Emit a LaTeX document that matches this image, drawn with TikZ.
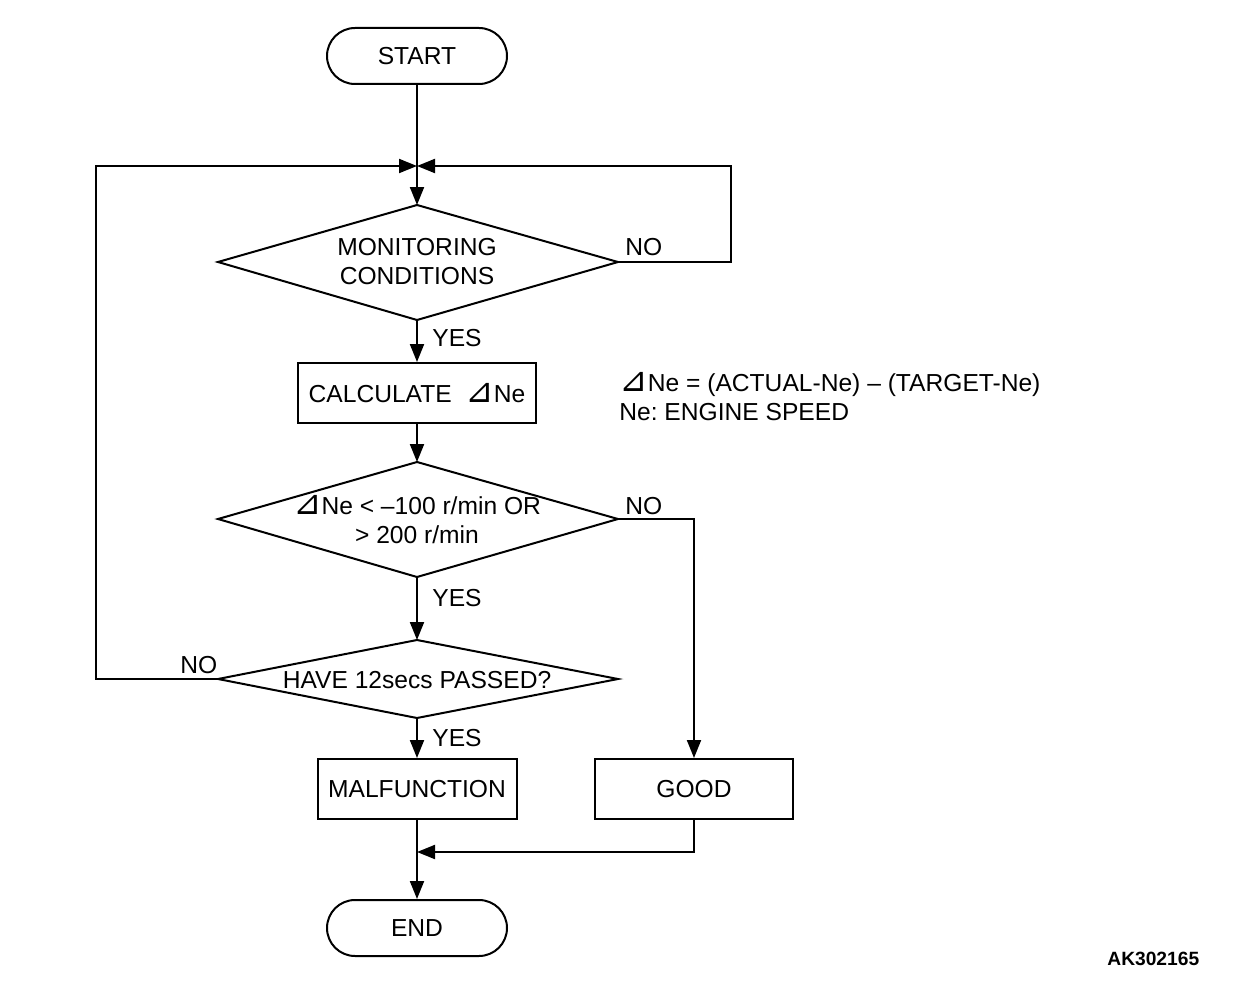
\documentclass[tikz,border=0pt]{standalone}
\usepackage{fontspec}
\setmainfont{Liberation Sans}
\newfontfamily\symfont{DejaVu Sans}
\usetikzlibrary{arrows.meta,shapes.geometric}
\newcommand{\dtri}{{\symfont\fontsize{17}{14}\selectfont ⊿}}
\frenchspacing
\begin{document}
\begin{tikzpicture}[x=0.5pt,y=-0.5pt,
  every node/.style={font=\fontsize{12.3}{14.5}\selectfont},
  line/.style={line width=1pt},
  arr/.style={line width=1pt,-{Triangle[length=9pt,width=7pt]}},
  term/.style={draw,line width=1pt,rounded corners=14pt,minimum width=90pt,minimum height=28pt,inner sep=0pt},
  proc/.style={draw,line width=1pt,minimum height=30pt,inner sep=0pt,align=center},
  dec/.style={draw,line width=1pt,align=center,inner sep=0pt},
  lbl/.style={inner sep=0pt}]
\useasboundingbox (0,0) rectangle (1248,990);
\node[term] (start) at (417,56) {START};
\node[term] (end) at (417,928) {END};
\draw[dec] (218,262) -- (417,205) -- (618,262) -- (417,320) -- cycle;
\node[lbl,align=center] (d1) at (417,262) {MONITORING\\CONDITIONS};
\coordinate (d1t) at (417,205); \coordinate (d1b) at (417,320); \coordinate (d1r) at (618,262);
\node[proc,minimum width=119pt] (calc) at (417,393) {CALCULATE \ \dtri Ne};
\draw[dec] (218,519) -- (417,462) -- (618,519) -- (417,577) -- cycle;
\node[lbl,align=center] (d2) at (417,520) {\dtri Ne < –100 r/min OR\\> 200 r/min};
\coordinate (d2t) at (417,462); \coordinate (d2b) at (417,577); \coordinate (d2r) at (618,519);
\draw[dec] (218,679) -- (417,640) -- (618,679) -- (417,718) -- cycle;
\node[lbl] (d3) at (417,680) {HAVE 12secs PASSED?};
\coordinate (d3t) at (417,640); \coordinate (d3b) at (417,718); \coordinate (d3l) at (218,679);
\node[proc,minimum width=99.5pt] (mal) at (417,789) {MALFUNCTION};
\node[proc,minimum width=99pt] (good) at (694,789) {GOOD};
\coordinate (m) at (417,166);
\coordinate (rr1) at (731,262); \coordinate (rr2) at (731,166);
\coordinate (ll1) at (96,679); \coordinate (ll2) at (96,166);
\coordinate (g1) at (694,519);
\coordinate (e1) at (694,852); \coordinate (e2) at (417,852);
% connectors
\draw[line] (start) -- (m);
\draw[arr] (m) -- (d1t);
\draw[arr] (d1r) -- (rr1) -- (rr2) -- (m);
\draw[arr] (d3l) -- (ll1) -- (ll2) -- (m);
\draw[arr] (d1b) -- (calc);
\draw[arr] (calc) -- (d2t);
\draw[arr] (d2b) -- (d3t);
\draw[arr] (d3b) -- (mal);
\draw[arr] (d2r) -- (g1) -- (good);
\draw[arr] (mal) -- (end);
\draw[arr] (good) -- (e1) -- (e2);
% labels
\node[lbl,anchor=south west] (n1) at (625,256) {NO};
\node[lbl,anchor=south west] (y1) at (432,347) {YES};
\node[lbl,anchor=south west] (n2) at (625,515) {NO};
\node[lbl,anchor=south west] (y2) at (432,607) {YES};
\node[lbl,anchor=south west] (n3) at (180,674) {NO};
\node[lbl,anchor=south west] (y3) at (432,747) {YES};
\node[lbl,anchor=north west,align=left] (note) at (619,372) {\dtri Ne = (ACTUAL-Ne) – (TARGET-Ne)\\Ne: ENGINE SPEED};
\node[lbl,anchor=south west,font=\fontsize{9.6}{12}\selectfont\bfseries] (code) at (1107,966) {AK302165};
\end{tikzpicture}
\end{document}
